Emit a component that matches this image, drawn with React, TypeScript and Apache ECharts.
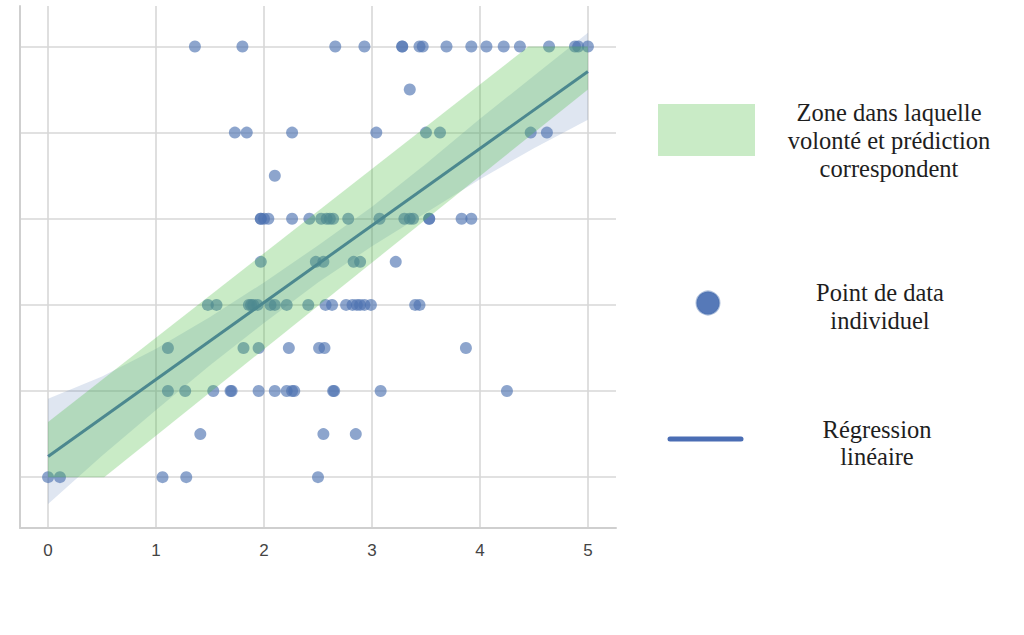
import React, { useEffect, useRef } from "react";
import * as echarts from "echarts";

// ---- data ----
const xTickValues = [0, 1, 2, 3, 4, 5];

// individual points, one array per y level
const xAtY5 = [1.36, 1.8, 2.66, 2.93, 3.28, 3.28, 3.44, 3.47, 3.69, 3.92, 4.06, 4.22, 4.37, 4.64, 4.88, 4.91, 5.0];
const xAtY45 = [3.35];
const xAtY4 = [1.73, 1.84, 2.26, 3.04, 3.5, 3.63, 4.47, 4.62];
const xAtY35 = [2.1];
const xAtY3 = [1.97, 1.97, 2.0, 2.04, 2.26, 2.42, 2.53, 2.58, 2.61, 2.64, 2.78, 3.07, 3.3, 3.35, 3.38, 3.53, 3.53, 3.83, 3.92];
const xAtY25 = [1.97, 2.48, 2.55, 2.83, 2.89, 3.22];
const xAtY2 = [1.48, 1.56, 1.86, 1.88, 1.9, 1.94, 2.06, 2.1, 2.21, 2.41, 2.57, 2.63, 2.76, 2.82, 2.86, 2.89, 2.93, 2.99, 3.4, 3.44];
const xAtY15 = [1.11, 1.81, 1.95, 2.23, 2.51, 2.56, 3.87];
const xAtY1 = [1.11, 1.27, 1.53, 1.69, 1.7, 1.95, 2.1, 2.21, 2.26, 2.28, 2.64, 2.65, 3.08, 4.25];
const xAtY05 = [1.41, 2.55, 2.85];
const xAtY0 = [0, 0.11, 1.06, 1.28, 2.5];

const rowLevels = [5, 4.5, 4, 3.5, 3, 2.5, 2, 1.5, 1, 0.5, 0];
const rowXs = [xAtY5, xAtY45, xAtY4, xAtY35, xAtY3, xAtY25, xAtY2, xAtY15, xAtY1, xAtY05, xAtY0];

// linear regression line
const regX = [0, 5];
const regY = [0.24, 4.71];

// confidence band of the regression
const ciX = [0, 0.5, 1, 1.5, 2, 2.5, 3, 3.5, 4, 4.5, 5];
const ciUpper = [0.91, 1.17, 1.49, 1.86, 2.26, 2.69, 3.14, 3.64, 4.16, 4.66, 5.16];
const ciLower = [-0.31, 0.25, 0.78, 1.3, 1.79, 2.26, 2.68, 3.07, 3.46, 3.82, 4.15];

// green zone where will and prediction correspond
const zoneX = [0, 0.52, 5, 5, 4.45, 0];
const zoneY = [0, 0, 4.5, 5, 5, 0.64];

// legend texts
const legendZone = ["Zone dans laquelle", "volonté et prédiction", "correspondent"];
const legendPoint = ["Point de data", "individuel"];
const legendLine = ["Régression", "linéaire"];

const points: number[][] = [];
rowLevels.forEach((y, i) => rowXs[i].forEach((x) => points.push([x, y])));

const gridColor = "#d7d7d7";
const serif = "'Liberation Serif', 'Times New Roman', serif";

function textLines(lines: string[], cx: number, y0: number, step: number) {
  return lines.map((t, i) => ({
    type: "text",
    x: cx,
    y: y0 + i * step,
    style: {
      text: t,
      fill: "#1e1e1e",
      fontSize: 24.5,
      fontFamily: serif,
      align: "center",
      verticalAlign: "middle",
    },
  }));
}

export default function App() {
  const ref = useRef<HTMLDivElement>(null);
  useEffect(() => {
    const chart = echarts.init(ref.current!, null, { renderer: "svg" });
    const option: any = {
      animation: false,
      backgroundColor: "#ffffff",
      grid: { left: 20, top: 6, right: 408, bottom: 107, containLabel: false },
      xAxis: {
        type: "value",
        min: -0.26,
        max: 5.26,
        splitNumber: 5,
        axisLine: { show: true, onZero: false, lineStyle: { color: "#cfcfcf", width: 2 } },
        axisTick: { show: false },
        axisLabel: {
          show: true,
          margin: 14,
          fontSize: 17,
          color: "#444",
          fontFamily: "'Liberation Sans', Arial, sans-serif",
          showMinLabel: false,
          showMaxLabel: false,
          formatter: (v: number) => (xTickValues.indexOf(v) >= 0 ? String(v) : ""),
        },
        splitLine: { show: true, showMinLine: false, showMaxLine: false, lineStyle: { color: gridColor, width: 1.6 } },
      },
      yAxis: {
        type: "value",
        min: -0.59,
        max: 5.47,
        splitNumber: 5,
        axisLine: { show: true, onZero: false, lineStyle: { color: "#cfcfcf", width: 2 } },
        axisTick: { show: false },
        axisLabel: { show: false },
        splitLine: { show: true, showMinLine: false, showMaxLine: false, lineStyle: { color: gridColor, width: 1.6 } },
      },
      series: [
        {
          type: "custom",
          z: 1,
          silent: true,
          clip: true,
          data: [[0, 0]],
          renderItem: (params: any, api: any) => {
            const pts: number[][] = [];
            ciX.forEach((x, i) => pts.push(api.coord([x, ciUpper[i]])));
            for (let i = ciX.length - 1; i >= 0; i--) pts.push(api.coord([ciX[i], ciLower[i]]));
            return { type: "polygon", shape: { points: pts }, style: { fill: "rgba(76,114,176,0.18)" } };
          },
        },
        {
          type: "scatter",
          z: 2,
          symbolSize: 12,
          data: points,
          itemStyle: { color: "rgba(76,114,176,0.8)" },
        },
        {
          type: "line",
          z: 3,
          showSymbol: false,
          data: regX.map((x, i) => [x, regY[i]]),
          lineStyle: { color: "#4C72B0", width: 3 },
        },
        {
          type: "custom",
          z: 4,
          silent: true,
          data: [[0, 0]],
          renderItem: (params: any, api: any) => {
            const pts = zoneX.map((x, i) => api.coord([x, zoneY[i]]));
            return { type: "polygon", shape: { points: pts }, style: { fill: "rgba(75,188,65,0.3)" } };
          },
        },
      ],
      graphic: [
        { type: "rect", shape: { x: 658, y: 104, width: 97, height: 52 }, style: { fill: "#c9ebc6" } },
        ...textLines(legendZone, 889, 112, 28),
        {
          type: "circle",
          shape: { cx: 708, cy: 303, r: 11.5 },
          style: { fill: "#5679b8", stroke: "rgba(76,114,176,0.45)", lineWidth: 2 },
        },
        ...textLines(legendPoint, 880, 292, 28),
        {
          type: "line",
          shape: { x1: 670, y1: 439, x2: 741, y2: 439 },
          style: { stroke: "#4a6db4", lineWidth: 5, lineCap: "round" },
        },
        ...textLines(legendLine, 877, 429, 27),
      ],
    };
    chart.setOption(option);
    return () => chart.dispose();
  }, []);
  return (
    <div
      ref={ref}
      style={{ position: "fixed", left: 0, top: 0, width: 1024, height: 635, background: "#fff" }}
    />
  );
}
